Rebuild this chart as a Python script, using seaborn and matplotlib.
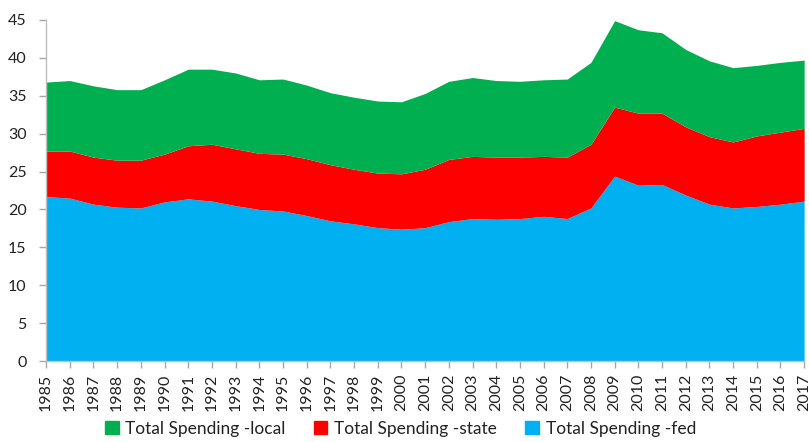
import numpy as np
import pandas as pd
import matplotlib
matplotlib.use("Agg")
import matplotlib.pyplot as plt
from matplotlib.patches import Patch
import seaborn as sns

years = list(range(1985, 2018))
fed = [21.7, 21.5, 20.7, 20.3, 20.2, 21.0, 21.4, 21.1, 20.5, 20.0, 19.8, 19.2, 18.5,
       18.1, 17.6, 17.4, 17.6, 18.4, 18.8, 18.7, 18.8, 19.1, 18.8, 20.2, 24.4, 23.2,
       23.3, 21.9, 20.7, 20.2, 20.4, 20.7, 21.1]
state = [6.0, 6.2, 6.2, 6.2, 6.3, 6.3, 7.0, 7.5, 7.5, 7.4, 7.5, 7.5, 7.4,
         7.2, 7.2, 7.3, 7.7, 8.2, 8.2, 8.2, 8.1, 7.9, 8.1, 8.4, 9.1, 9.5,
         9.4, 9.0, 8.9, 8.7, 9.3, 9.5, 9.6]
local = [9.1, 9.3, 9.4, 9.3, 9.3, 9.8, 10.1, 9.9, 10.0, 9.7, 9.9, 9.7, 9.5,
         9.5, 9.5, 9.5, 10.0, 10.3, 10.4, 10.1, 10.0, 10.1, 10.3, 10.8, 11.4, 11.0,
         10.6, 10.2, 10.0, 9.8, 9.3, 9.2, 9.0]
labels = ["Total Spending -local", "Total Spending -state", "Total Spending -fed"]
colors = {"fed": "#00B0F0", "state": "#FF0000", "local": "#00B050"}

df = pd.DataFrame({"year": years, "fed": fed, "state": state, "local": local})

sns.set_theme(style="ticks")
plt.rcParams["font.family"] = ["Lato", "DejaVu Sans"]

fig = plt.figure(figsize=(8.09, 4.42), dpi=100)
ax = fig.add_axes([0.057, 0.183, 0.937, 0.772])

ax.stackplot(df["year"], df["fed"], df["state"], df["local"],
             colors=[colors["fed"], colors["state"], colors["local"]], linewidth=0)

ax.set_xlim(1985, 2017)
ax.set_ylim(0, 45)
ax.set_yticks(range(0, 46, 5))
ax.set_xticks(years)
ax.set_xticklabels([str(y) for y in years], rotation=90)
ax.tick_params(axis="both", labelsize=11.5, color="#a6a6a6", length=5, width=1,
               labelcolor="#222222")
ax.tick_params(axis="x", pad=4)
ax.tick_params(axis="y", pad=9)
sns.despine(ax=ax)
for s in ["left", "bottom"]:
    ax.spines[s].set_color("#bfbfbf")
    ax.spines[s].set_linewidth(1)
ax.set_xlabel("")
ax.set_ylabel("")

handles = [Patch(color=colors["local"]), Patch(color=colors["state"]), Patch(color=colors["fed"])]
fig.legend(handles, labels, loc="center", bbox_to_anchor=(0.495, 0.03), ncol=3,
           frameon=False, fontsize=12.5, handlelength=0.8, handleheight=0.8,
           handletextpad=0.4, columnspacing=1.6, labelcolor="#222222",
           borderaxespad=0, borderpad=0)

fig.savefig("out.png", dpi=100)
